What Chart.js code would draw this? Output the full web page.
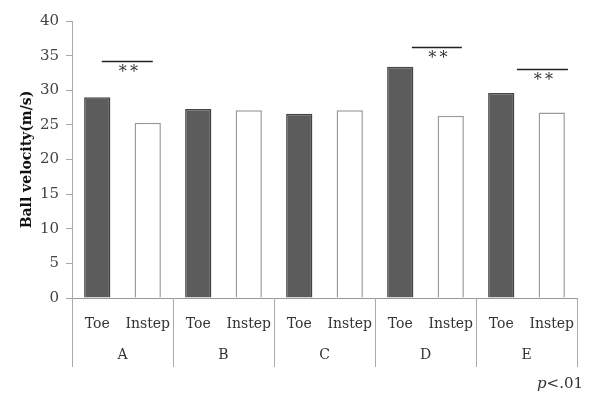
<!DOCTYPE html>
<html><head><meta charset="utf-8">
<script src="https://cdn.jsdelivr.net/npm/chart.js@4/dist/chart.umd.min.js"></script>
<style>html,body{margin:0;padding:0;background:#fff}#w{width:595px;height:394px}</style>
</head><body><div id="w"><canvas id="c" width="595" height="394"></canvas></div>
<script>
const kickLabels = ['Toe','Instep','Toe','Instep','Toe','Instep','Toe','Instep','Toe','Instep'];
const groups = ['A','B','C','D','E'];
const velocity = [29.0, 25.3, 27.3, 27.1, 26.6, 27.1, 33.4, 26.3, 29.6, 26.8];
const yTicks = [0,5,10,15,20,25,30,35,40];
// significance brackets: [start position, end position, y value]
const sigBrackets = [[0.09, 1.1, 34.2], [6.23, 7.22, 36.3], [8.31, 9.32, 33.0]];
const yTitle = 'Ball velocity(m/s)';

const SERIF = '"DejaVu Serif", serif';
const fills = velocity.map((v,i)=> i%2===0 ? '#5c5c5c' : '#ffffff');
const borders = velocity.map((v,i)=> i%2===0 ? '#444444' : '#9a9a9a');

const extras = {
  id:'extras',
  afterDraw(chart){
    const ctx = chart.ctx, x = chart.scales.x, y = chart.scales.y;
    const bottom = chart.chartArea.bottom;
    ctx.save();
    ctx.strokeStyle = '#aaaaaa'; ctx.lineWidth = 1;
    for (let g=0; g<=groups.length; g++){
      const px = Math.round(x.getPixelForValue(g*2 - 0.5)) + 0.5;
      ctx.beginPath(); ctx.moveTo(px, bottom); ctx.lineTo(px, 367); ctx.stroke();
    }
    ctx.fillStyle = '#333'; ctx.font = '14px ' + SERIF;
    ctx.textAlign = 'center'; ctx.textBaseline = 'middle';
    groups.forEach((g,i)=>{
      ctx.fillText(g, x.getPixelForValue(i*2 + 0.5), 355);
    });
    sigBrackets.forEach(([a,b,v])=>{
      const x1 = x.getPixelForValue(a), x2 = x.getPixelForValue(b), py = Math.round(y.getPixelForValue(v)) + 0.5;
      ctx.strokeStyle = '#222'; ctx.lineWidth = 1.3;
      ctx.beginPath(); ctx.moveTo(x1, py); ctx.lineTo(x2, py); ctx.stroke();
      ctx.fillStyle = '#333'; ctx.font = '16px ' + SERIF;
      ctx.fillText('*\u2009*', (x1+x2)/2 + 1, py + 11);
    });
    ctx.textAlign = 'left'; ctx.textBaseline = 'alphabetic'; ctx.fillStyle = '#333';
    ctx.font = 'italic 15px ' + SERIF;
    const px0 = 537;
    ctx.fillText('p', px0, 388);
    const pw = ctx.measureText('p').width;
    ctx.font = '15px ' + SERIF;
    ctx.fillText('<.01', px0 + pw, 388);
    ctx.restore();
  }
};

new Chart(document.getElementById('c'), {
  type:'bar',
  data:{ labels: kickLabels, datasets:[{ data: velocity, backgroundColor: fills, borderColor: borders, borderWidth: 1.5, categoryPercentage: 1, barPercentage: 0.52 }]},
  options:{
    responsive:false, animation:false,
    layout:{ padding:{ top:21, right:18, left:0, bottom:0 } },
    plugins:{ legend:{display:false}, tooltip:{enabled:false} },
    scales:{
      x:{
        grid:{ display:false },
        border:{ display:true, color:'#999999', width:1 },
        ticks:{ color:'#333', font:{ family:SERIF, size:14 }, padding:10, maxRotation:0, autoSkip:false },
        afterFit(s){ s.height = 96; }
      },
      y:{
        min:0, max:40,
        afterBuildTicks(s){ s.ticks = yTicks.map(v=>({value:v})); },
        grid:{ drawOnChartArea:false, drawTicks:true, tickLength:6, color:'#aaaaaa' },
        border:{ display:true, color:'#aaaaaa', width:1 },
        ticks:{ color:'#444', font:{ family:SERIF, size:15 }, padding:7 },
        title:{ display:true, text:yTitle, color:'#111', font:{ family:SERIF, size:14, weight:'bold' }, padding:{ top:19, bottom:0 } },
        afterFit(s){ s.width = 72; }
      }
    }
  },
  plugins:[extras]
});
</script></body></html>
